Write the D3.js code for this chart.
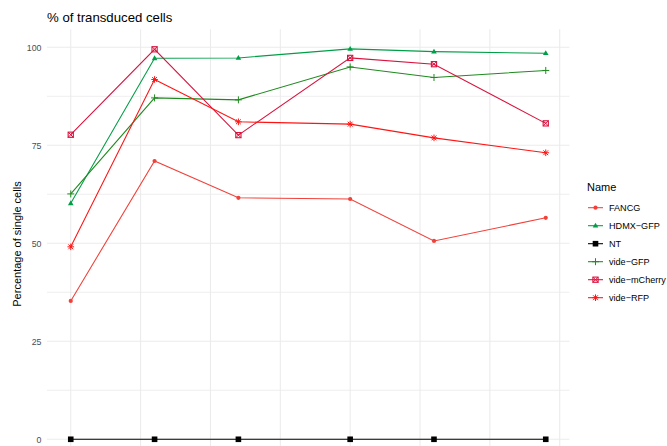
<!DOCTYPE html>
<html><head><meta charset="utf-8">
<script src="https://cdn.jsdelivr.net/npm/d3@7"></script>
<style>body{margin:0;background:#fff}svg{display:block}text{font-family:"Liberation Sans",Arial,sans-serif}</style>
</head><body><svg id="c" width="667" height="446"></svg>
<script>
const days = [0, 6, 12, 20, 26, 34];
const names = ["FANCG", "HDMX\u2212GFP", "NT", "vide\u2212GFP", "vide\u2212mCherry", "vide\u2212RFP"];
const FANCG = [35.3, 71.0, 61.6, 61.3, 50.6, 56.5];
const HDMX_GFP = [60.2, 97.2, 97.3, 99.6, 98.9, 98.5];
const NT = [0, 0, 0, 0, 0, 0];
const vide_GFP = [62.6, 87.1, 86.6, 95.0, 92.3, 94.1];
const vide_mCherry = [77.7, 99.5, 77.6, 97.3, 95.7, 80.6];
const vide_RFP = [49.1, 91.8, 81.0, 80.4, 76.9, 73.1];
const yTicks = [0, 25, 50, 75, 100];
const colors = ["#f0413a", "#009e47", "#000000", "#1f8a1f", "#d9123e", "#ff1414"];
const shapes = ["circle", "triangle", "square", "plus", "squarecross", "asterisk"];
const seriesVals = [FANCG, HDMX_GFP, NT, vide_GFP, vide_mCherry, vide_RFP];

const svg = d3.select("#c");
const L = 47, R = 569.5, T = 29.3, B = 458.8;
const x = d3.scaleLinear().domain([-1.7, 35.7]).range([L, R]);
const y = d3.scaleLinear().domain([-4.98, 104.6]).range([B, T]);

// grid
const g = svg.append("g");
d3.range(0, 36, 5).forEach(d => g.append("line").attr("x1", x(d)).attr("x2", x(d)).attr("y1", T).attr("y2", B).attr("stroke", "#ebebeb").attr("stroke-width", 1.07));
d3.range(0, 101, 12.5).forEach(d => g.append("line").attr("x1", L).attr("x2", R).attr("y1", y(d)).attr("y2", y(d)).attr("stroke", "#ebebeb").attr("stroke-width", d % 25 === 0 ? 1.07 : 0.8));

// y axis labels
const ya = svg.append("g").attr("transform", `translate(${L - 2.5},0)`).call(d3.axisLeft(y).tickValues(yTicks).tickSize(0).tickPadding(3));
ya.select(".domain").remove();
ya.selectAll("text").attr("fill", "#4d4d4d").style("font-size", "8.8px").style("font-family", "Liberation Sans, Arial, sans-serif");

function marker(sel, shape, color, cx, cy) {
  const gg = sel.append("g").attr("transform", `translate(${cx},${cy})`);
  if (shape === "circle") gg.append("circle").attr("r", 2.1).attr("fill", color);
  else if (shape === "triangle") gg.append("path").attr("d", "M0,-3L2.8,1.9L-2.8,1.9Z").attr("fill", color);
  else if (shape === "square") gg.append("rect").attr("x", -2.8).attr("y", -2.8).attr("width", 5.6).attr("height", 5.6).attr("fill", color);
  else if (shape === "plus") gg.append("path").attr("d", "M-3.5,0H3.5M0,-3.5V3.5").attr("stroke", color).attr("stroke-width", 1);
  else if (shape === "squarecross") {
    gg.append("rect").attr("x", -2.6).attr("y", -2.6).attr("width", 5.2).attr("height", 5.2).attr("fill", "none").attr("stroke", color).attr("stroke-width", 1.1);
    gg.append("path").attr("d", "M-2.6,-2.6L2.6,2.6M2.6,-2.6L-2.6,2.6").attr("stroke", color).attr("stroke-width", 1);
  } else if (shape === "asterisk") {
    gg.append("path").attr("d", "M-3.3,0H3.3M0,-3.3V3.3M-2.4,-2.4L2.4,2.4M2.4,-2.4L-2.4,2.4").attr("stroke", color).attr("stroke-width", 1);
  }
}

const line = d3.line().x(d => x(d[0])).y(d => y(d[1]));
seriesVals.forEach((vals, i) => {
  const pts = days.map((d, j) => [d, vals[j]]);
  svg.append("path").attr("d", line(pts)).attr("fill", "none").attr("stroke", colors[i]).attr("stroke-width", 1.07);
  pts.forEach(p => marker(svg, shapes[i], colors[i], x(p[0]), y(p[1])));
});

// title
svg.append("text").attr("x", 47).attr("y", 21.5).attr("font-size", "13.2px").attr("fill", "#000").text("% of transduced cells");
// y label
svg.append("text").attr("transform", `translate(20.5,${(T + B) / 2}) rotate(-90)`).attr("text-anchor", "middle").attr("font-size", "11px").attr("fill", "#000").text("Percentage of single cells");

// legend
const lg = svg.append("g");
lg.append("text").attr("x", 587).attr("y", 191).attr("font-size", "11px").attr("fill", "#000").text("Name");
names.forEach((n, i) => {
  const cy = 207.7 + i * 18;
  lg.append("line").attr("x1", 588).attr("x2", 603).attr("y1", cy).attr("y2", cy).attr("stroke", colors[i]).attr("stroke-width", 1.07);
  marker(lg, shapes[i], colors[i], 595.5, cy);
  lg.append("text").attr("x", 609).attr("y", cy + 3.2).attr("font-size", "9.1px").attr("fill", "#000").text(n);
});
</script></body></html>
